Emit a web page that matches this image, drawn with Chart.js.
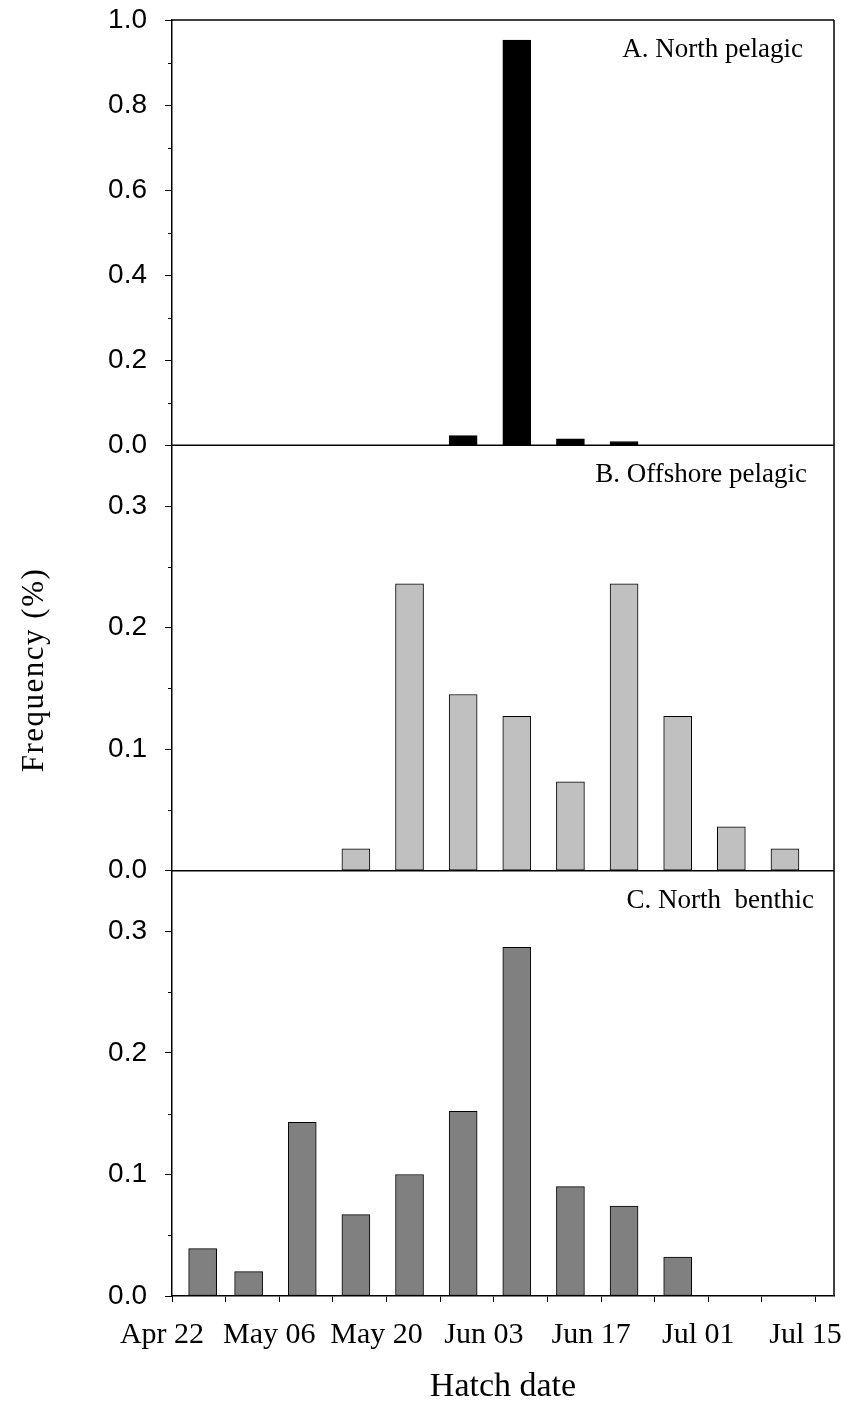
<!DOCTYPE html>
<html>
<head>
<meta charset="utf-8">
<script src="https://cdn.jsdelivr.net/npm/chart.js@4.4.1/dist/chart.umd.min.js"></script>
<style>
  html, body { margin: 0; padding: 0; background: #fff; }
  #wrap { width: 845px; height: 1401px; position: relative; }
  canvas { display: block; }
</style>
</head>
<body>
<div id="wrap"><canvas id="chart" width="845" height="1401"></canvas></div>
<script>
// Weekly hatch-date bins, as days after Apr 22
const binDays = [4, 10, 17, 24, 31, 38, 45, 52, 59, 66, 73, 80];

// Frequency of fish hatched in each bin
const northPelagic    = [0, 0, 0, 0, 0, 0.023, 0.953, 0.015, 0.009, 0, 0, 0];
const offshorePelagic = [0, 0, 0, 0.018, 0.236, 0.145, 0.127, 0.073, 0.236, 0.127, 0.036, 0.018];
const northBenthic    = [0.039, 0.020, 0.143, 0.067, 0.100, 0.152, 0.287, 0.090, 0.074, 0.032, 0, 0];

const panelNames = ['A. North pelagic', 'B. Offshore pelagic', 'C. North  benthic'];
const yTitle = 'Frequency (%)';
const xTitle = 'Hatch date';

// Date axis: a tick every week, a label every other week
const xTickDays   = [0, 7, 14, 21, 28, 35, 42, 49, 56, 63, 70, 77, 84];
const xTickLabels = ['Apr 22', '', 'May 06', '', 'May 20', '', 'Jun 03', '', 'Jun 17', '', 'Jul 01', '', 'Jul 15'];
const xMaxDay = 86.4;

// Frequency axes
const yTicksA = [0, 0.2, 0.4, 0.6, 0.8, 1.0];
const yMinorA = [0.1, 0.3, 0.5, 0.7, 0.9];
const yTicksBC = [0, 0.1, 0.2, 0.3];
const yMinorBC = [0.05, 0.15, 0.25];
const yMaxA = 1.0;
const yMaxBC = 0.35;

const SERIF = "'Liberation Serif', 'Times New Roman', serif";
const SANS = "'Liberation Sans', Arial, sans-serif";

function toPoints(values) {
  return binDays.map((d, i) => ({ x: d, y: values[i] })).filter(p => p.y > 0);
}

function barSet(label, values, fill, axisId) {
  return {
    label: label,
    data: toPoints(values),
    yAxisID: axisId,
    backgroundColor: fill,
    borderColor: '#000',
    borderWidth: 1,
    borderSkipped: false,
    barThickness: 28,
    grouped: false
  };
}

function yAxis(max, ticks) {
  return {
    type: 'linear',
    position: 'left',
    stack: 'panels',
    stackWeight: 1,
    min: 0,
    max: max,
    afterBuildTicks: s => { s.ticks = ticks.map(v => ({ value: v })); },
    afterFit: s => {
      s.width = 172;
      s.paddingTop = 0; s.paddingBottom = 0;
    },
    ticks: {
      font: { family: SANS, size: 28 },
      color: '#000',
      padding: 18,
      callback: v => Number(v).toFixed(1)
    },
    grid: { drawOnChartArea: false, tickLength: 7, color: '#000', lineWidth: 1 },
    border: { color: '#000', width: 1.5 }
  };
}

// Short unlabeled ticks between the labelled ones on each frequency axis
const minorTicks = {
  id: 'minorTicks',
  afterDraw(chart) {
    const ctx = chart.ctx;
    ctx.save();
    ctx.strokeStyle = '#000';
    ctx.lineWidth = 1;
    [['yA', yMinorA], ['yB', yMinorBC], ['yC', yMinorBC]].forEach(([id, vals]) => {
      const s = chart.scales[id];
      vals.forEach(v => {
        const y = Math.round(s.getPixelForValue(v)) + 0.5;
        ctx.beginPath();
        ctx.moveTo(s.right - 4, y);
        ctx.lineTo(s.right, y);
        ctx.stroke();
      });
    });
    ctx.restore();
  }
};

// Box around the stacked panels, the lines between them, captions and the shared y title
const panelFrame = {
  id: 'panelFrame',
  afterDatasetsDraw(chart) {
    const ctx = chart.ctx;
    const a = chart.chartArea;
    ctx.save();
    ctx.strokeStyle = '#000';
    ctx.lineWidth = 1.5;
    ctx.beginPath();
    ctx.moveTo(a.left, a.top); ctx.lineTo(a.right, a.top);
    ctx.moveTo(a.right, a.top); ctx.lineTo(a.right, a.bottom);
    ['yA', 'yB'].forEach(id => {
      const y = chart.scales[id].getPixelForValue(0);
      ctx.moveTo(a.left, y); ctx.lineTo(a.right, y);
    });
    ctx.stroke();

    // Panel captions in the upper right corner of each panel
    ctx.fillStyle = '#000';
    ctx.font = '27px ' + SERIF;
    ctx.textAlign = 'right';
    ctx.textBaseline = 'alphabetic';
    const rights = [803, 807, 814];
    ['yA', 'yB', 'yC'].forEach((id, i) => {
      ctx.fillText(panelNames[i], rights[i], chart.scales[id].top + 37);
    });

    // Shared frequency title, rotated, beside the middle panel
    const mid = chart.scales.yB;
    ctx.translate(43, (mid.top + mid.bottom) / 2 + 12);
    ctx.rotate(-Math.PI / 2);
    ctx.font = '31px ' + SERIF;
    ctx.letterSpacing = '1.5px';
    ctx.textAlign = 'center';
    ctx.fillText(yTitle, 0, 0);
    ctx.restore();
  }
};

new Chart(document.getElementById('chart'), {
  type: 'bar',
  data: {
    datasets: [
      barSet(panelNames[0], northPelagic, '#000000', 'yA'),
      barSet(panelNames[1], offshorePelagic, '#c0c0c0', 'yB'),
      barSet(panelNames[2], northBenthic, '#808080', 'yC')
    ]
  },
  options: {
    responsive: false,
    animation: false,
    devicePixelRatio: 1,
    layout: { padding: { top: 20, right: 11, left: 0, bottom: 0 } },
    plugins: { legend: { display: false }, tooltip: { enabled: false } },
    scales: {
      x: {
        type: 'linear',
        position: 'bottom',
        min: 0,
        max: xMaxDay,
        offset: false,
        afterBuildTicks: s => { s.ticks = xTickDays.map(v => ({ value: v })); },
        afterFit: s => {
          s.height = 105;
          s.paddingLeft = 0; s.paddingRight = 0;
        },
        ticks: {
          autoSkip: false,
          maxRotation: 0,
          minRotation: 0,
          padding: 15,
          labelOffset: -10,
          font: { family: SERIF, size: 30 },
          color: '#000',
          callback: (v) => xTickLabels[xTickDays.indexOf(v)] ?? ''
        },
        grid: { drawOnChartArea: false, offset: false, tickLength: 6, color: '#000', lineWidth: 1 },
        border: { color: '#000', width: 1.5 },
        title: {
          display: true,
          text: xTitle,
          font: { family: SERIF, size: 34, lineHeight: 0.8 },
          color: '#000',
          padding: { top: 0, bottom: 0 }
        }
      },
      yC: yAxis(yMaxBC, yTicksBC),
      yB: yAxis(yMaxBC, yTicksBC),
      yA: yAxis(yMaxA, yTicksA)
    }
  },
  plugins: [minorTicks, panelFrame]
});
</script>
</body>
</html>
